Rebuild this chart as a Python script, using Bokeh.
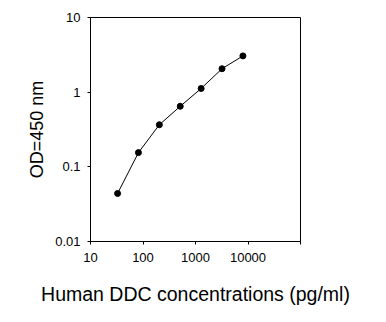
from bokeh.plotting import figure
from bokeh.models import FixedTicker, CustomJSTickFormatter
from bokeh.embed import file_html
from bokeh.resources import INLINE

# Data
conc = [32.8, 81.9, 204.8, 512, 1280, 3200, 8000]
od = [0.044, 0.155, 0.366, 0.647, 1.12, 2.06, 3.06]

x_ticks = [10, 100, 1000, 10000, 100000]
x_labels = ["10", "100", "1000", "10000", ""]
y_ticks = [0.01, 0.1, 1, 10]
y_labels = ["0.01", "0.1", "1", "10"]

FONT = "Liberation Sans"

p = figure(x_axis_type="log", y_axis_type="log",
           x_range=(10, 100000), y_range=(0.01, 10),
           frame_width=210, frame_height=224,
           min_border_left=90, min_border_top=17,
           min_border_right=86, min_border_bottom=81,
           output_backend="svg", toolbar_location=None)

p.line(conc, od, line_color="black", line_width=1)
p.scatter(conc, od, size=6, fill_color="black", line_color="black")

p.grid.visible = False
p.outline_line_color = "black"
p.outline_line_width = 1
p.background_fill_color = "white"
p.border_fill_color = "white"

def fmt(ticks, labels):
    return CustomJSTickFormatter(args=dict(tv=ticks, tl=labels), code="""
        for (let i = 0; i < tv.length; i++) {
            if (Math.abs(Math.log10(tv[i]) - Math.log10(tick)) < 1e-6) return tl[i];
        }
        return "";
    """)

p.xaxis.ticker = FixedTicker(ticks=x_ticks, minor_ticks=[])
p.yaxis.ticker = FixedTicker(ticks=y_ticks, minor_ticks=[])
p.xaxis.formatter = fmt(x_ticks, x_labels)
p.yaxis.formatter = fmt(y_ticks, y_labels)

for ax in (p.xaxis[0], p.yaxis[0]):
    ax.axis_line_color = "black"
    ax.major_tick_line_color = "black"
    ax.major_tick_out = 3
    ax.major_tick_in = 0
    ax.minor_tick_out = 0
    ax.minor_tick_in = 0
    ax.major_label_text_font = FONT
    ax.major_label_text_font_size = "13px"
    ax.major_label_text_color = "black"
    ax.axis_label_text_font = FONT
    ax.axis_label_text_font_style = "normal"
    ax.axis_label_text_color = "black"

p.xaxis.axis_label = "Human DDC concentrations (pg/ml)"
p.xaxis.axis_label_text_font_size = "19.5px"
p.xaxis.major_label_standoff = 8
p.xaxis.axis_label_standoff = 18

p.yaxis.axis_label = "OD=450 nm"
p.yaxis.axis_label_text_font_size = "18px"
p.yaxis.major_label_standoff = 7
p.yaxis.axis_label_standoff = 5

open("out.html", "w").write(file_html(p, INLINE))
